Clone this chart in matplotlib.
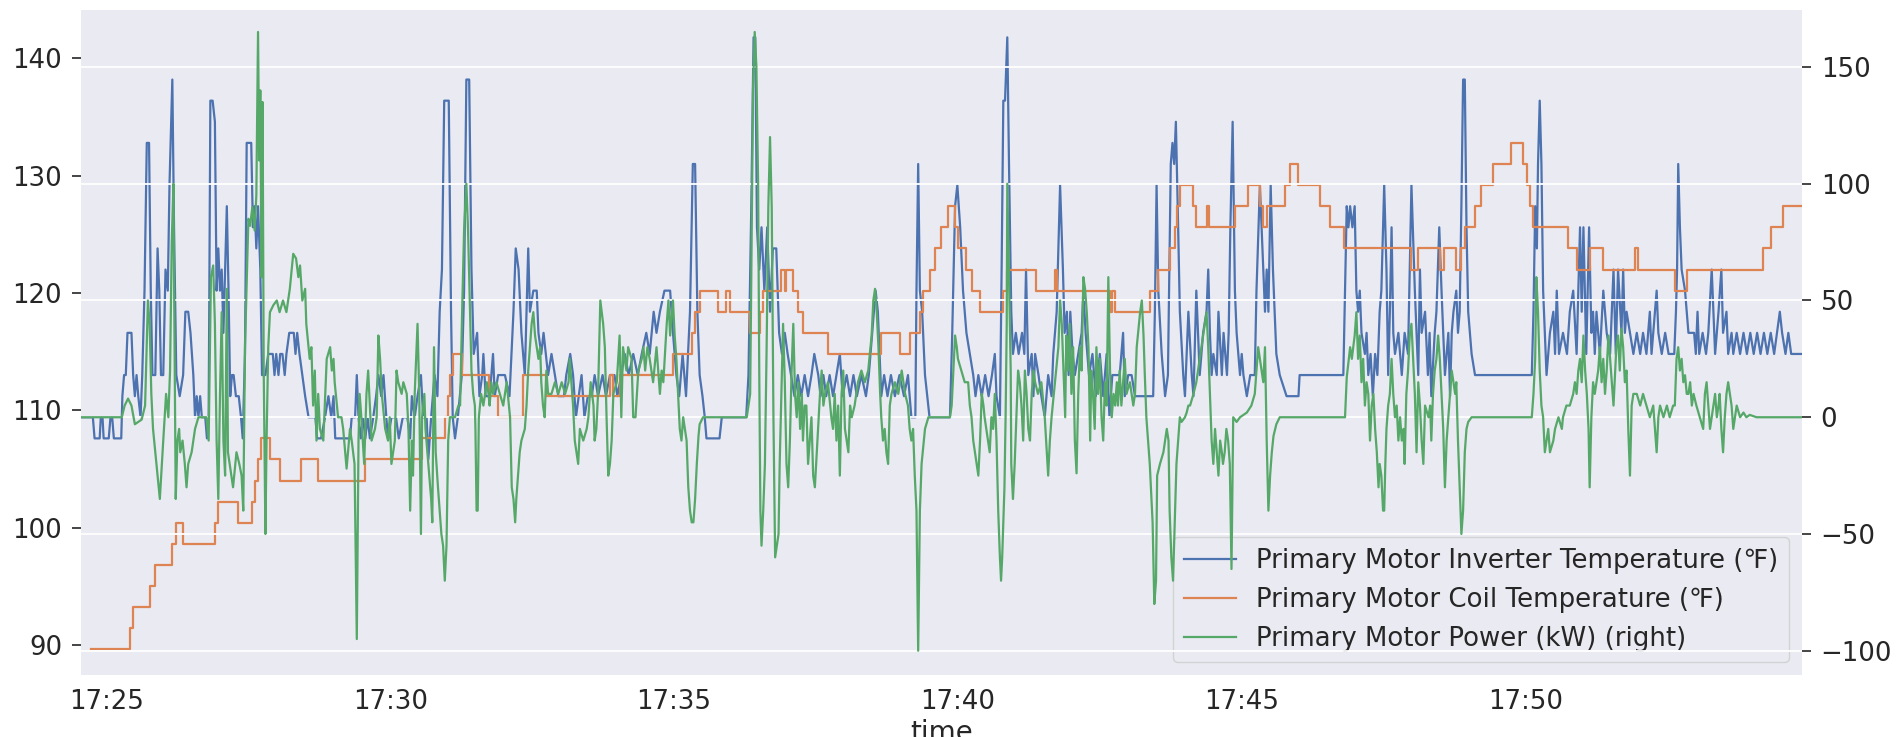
import pandas as pd
import matplotlib.pyplot as plt
import matplotlib.dates as mdates

# readings as (minutes after 17:00, value)
inverter_temp = [
    (24.55, 109.4), (24.76, 109.4), (24.79, 107.6), (24.88, 107.6), (24.90, 109.4), (24.93, 109.4),
    (24.95, 107.6), (25.04, 107.6), (25.07, 109.4), (25.10, 109.4), (25.13, 107.6), (25.26, 107.6),
    (25.28, 111.2), (25.31, 113.0), (25.34, 113.0), (25.37, 116.6), (25.44, 116.6), (25.47, 113.0),
    (25.50, 111.2), (25.53, 113.0), (25.56, 111.2), (25.60, 109.4), (25.63, 113.0), (25.67, 120.2),
    (25.71, 132.8), (25.75, 132.8), (25.78, 120.2), (25.81, 113.0), (25.86, 113.0), (25.90, 123.8),
    (25.93, 120.2), (25.96, 113.0), (26.00, 113.0), (26.04, 122.0), (26.08, 120.2), (26.11, 129.2),
    (26.16, 138.2), (26.19, 125.6), (26.23, 113.0), (26.29, 111.2), (26.35, 113.0), (26.39, 118.4),
    (26.44, 118.4), (26.48, 116.6), (26.53, 113.0), (26.56, 109.4), (26.59, 111.2), (26.62, 109.4),
    (26.65, 111.2), (26.68, 109.4), (26.74, 109.4), (26.77, 107.6), (26.80, 109.4), (26.83, 136.4),
    (26.87, 136.4), (26.91, 134.6), (26.94, 120.2), (26.97, 123.8), (27.00, 120.2), (27.03, 122.0),
    (27.06, 116.6), (27.09, 122.0), (27.12, 127.4), (27.15, 120.2), (27.18, 111.2), (27.21, 113.0),
    (27.24, 113.0), (27.28, 111.2), (27.33, 111.2), (27.37, 109.4), (27.40, 107.6), (27.44, 114.8),
    (27.47, 132.8), (27.55, 132.8), (27.58, 125.6), (27.61, 127.4), (27.64, 123.8), (27.67, 127.4),
    (27.71, 122.0), (27.74, 113.0), (27.80, 113.0), (27.85, 114.8), (27.93, 114.8), (27.96, 113.0),
    (27.99, 114.8), (28.03, 113.0), (28.06, 114.8), (28.10, 114.8), (28.14, 113.0), (28.17, 114.8),
    (28.22, 116.6), (28.30, 116.6), (28.33, 114.8), (28.36, 116.6), (28.40, 114.8), (28.45, 113.0),
    (28.50, 111.2), (28.56, 109.4), (28.68, 109.4), (28.71, 107.6), (28.78, 107.6),
    (28.85, 109.4), (28.91, 111.2), (28.96, 109.4), (29.00, 111.2), (29.03, 107.6), (29.29, 107.6),
    (29.32, 109.4), (29.38, 109.4), (29.41, 113.0), (29.44, 109.4), (29.48, 107.6), (29.52, 109.4),
    (29.56, 107.6), (29.60, 109.4), (29.64, 107.6), (29.70, 109.4), (29.75, 111.2), (29.79, 113.0),
    (29.84, 111.2), (29.88, 113.0), (29.93, 109.4), (29.96, 107.6), (30.02, 109.4), (30.10, 109.4),
    (30.15, 107.6), (30.22, 109.4), (30.30, 109.4), (30.35, 107.6), (30.38, 111.2), (30.43, 109.4),
    (30.48, 111.2), (30.54, 113.0), (30.58, 109.4), (30.64, 109.4), (30.67, 105.8), (30.72, 109.4),
    (30.78, 113.0), (30.83, 111.2), (30.87, 118.4), (30.91, 122.0), (30.95, 136.4), (31.03, 136.4),
    (31.07, 118.4), (31.10, 109.4), (31.14, 107.6), (31.19, 109.4), (31.26, 113.0), (31.30, 120.2),
    (31.34, 138.2), (31.39, 138.2), (31.43, 122.0), (31.47, 114.8), (31.53, 116.6), (31.57, 111.2),
    (31.62, 113.0), (31.64, 114.8), (31.68, 111.2), (31.75, 111.2), (31.81, 114.8), (31.84, 111.2),
    (31.90, 113.0), (32.02, 113.0), (32.10, 111.2), (32.17, 118.4), (32.21, 123.8), (32.26, 122.0),
    (32.31, 116.6), (32.37, 113.0), (32.43, 123.8), (32.46, 118.4), (32.52, 120.2), (32.58, 120.2),
    (32.61, 116.6), (32.66, 114.8), (32.70, 116.6), (32.78, 113.0), (32.84, 114.8), (32.90, 113.0),
    (32.96, 111.2), (33.06, 111.2), (33.10, 113.0), (33.17, 114.8),
    (33.22, 113.0), (33.27, 109.4), (33.32, 111.2), (33.37, 113.0), (33.42, 109.4), (33.48, 111.2),
    (33.55, 111.2), (33.60, 113.0), (33.66, 111.2), (33.74, 113.0), (33.80, 111.2), (33.87, 113.0),
    (33.95, 113.0), (34.00, 111.2), (34.07, 113.0), (34.13, 114.8), (34.20, 113.0), (34.28, 114.8),
    (34.36, 113.0), (34.43, 114.8), (34.51, 116.6), (34.57, 114.8), (34.64, 118.4), (34.69, 116.6),
    (34.75, 118.4), (34.83, 120.2), (34.93, 120.2), (34.98, 116.6), (35.04, 113.0), (35.09, 111.2),
    (35.15, 114.8), (35.21, 111.2), (35.28, 118.4), (35.33, 131.0), (35.37, 131.0), (35.41, 118.4),
    (35.45, 113.0), (35.50, 111.2), (35.54, 109.4), (35.57, 107.6), (35.80, 107.6), (35.84, 109.4),
    (36.27, 109.4), (36.31, 113.0), (36.36, 127.4), (36.40, 141.8), (36.43, 141.8), (36.46, 125.6),
    (36.50, 122.0), (36.54, 125.6), (36.59, 120.2), (36.64, 125.6), (36.69, 118.4), (36.74, 123.8),
    (36.80, 123.8), (36.85, 116.6), (36.90, 114.8), (36.95, 116.6), (37.00, 114.8), (37.06, 113.0),
    (37.12, 111.2), (37.18, 113.0), (37.24, 111.2), (37.30, 113.0), (37.36, 111.2), (37.42, 113.0),
    (37.47, 114.8),
    (37.54, 113.0), (37.58, 111.2), (37.63, 113.0), (37.68, 111.2), (37.74, 113.0), (37.80, 111.2),
    (37.86, 113.0), (37.92, 114.8), (37.97, 111.2), (38.04, 113.0), (38.10, 111.2), (38.16, 113.0),
    (38.22, 111.2), (38.30, 113.0), (38.38, 111.2), (38.43, 113.0), (38.49, 116.6), (38.55, 120.2),
    (38.59, 118.4), (38.65, 111.2), (38.70, 113.0), (38.76, 111.2), (38.82, 113.0), (38.89, 111.2),
    (38.97, 113.0), (39.05, 111.2), (39.12, 113.0), (39.18, 109.4), (39.25, 109.4), (39.27, 120.2),
    (39.30, 131.0), (39.33, 120.2), (39.37, 118.4), (39.42, 113.0), (39.50, 109.4), (39.86, 109.4),
    (39.90, 116.6), (39.95, 127.4), (39.99, 129.2), (40.04, 125.6), (40.09, 120.2), (40.15, 116.6),
    (40.21, 114.8), (40.27, 113.0), (40.31, 111.2), (40.36, 113.0), (40.42, 111.2), (40.48, 113.0),
    (40.54, 111.2), (40.60, 113.0), (40.65, 114.8), (40.68, 111.2), (40.74, 109.4), (40.77, 122.0),
    (40.80, 136.4), (40.83, 136.4), (40.87, 141.8), (40.90, 131.0), (40.94, 118.4), (40.97, 114.8),
    (41.02, 116.6), (41.07, 114.8), (41.13, 116.6), (41.17, 114.8), (41.20, 122.0), (41.24, 113.0),
    (41.30, 114.8), (41.33, 111.2), (41.36, 114.8), (41.42, 113.0), (41.47, 111.2), (41.53, 109.4),
    (41.59, 113.0), (41.65, 111.2), (41.68, 114.8), (41.74, 118.4), (41.80, 129.2), (41.85, 122.0),
    (41.88, 116.6), (41.92, 118.4), (41.95, 113.0), (41.98, 118.4), (42.02, 114.8), (42.06, 113.0),
    (42.12, 114.8), (42.18, 116.6), (42.21, 120.2), (42.25, 116.6), (42.31, 113.0), (42.37, 114.8),
    (42.43, 111.2), (42.50, 114.8), (42.56, 111.2), (42.62, 114.8), (42.67, 109.4), (42.72, 113.0),
    (42.85, 113.0), (42.91, 116.6), (42.94, 111.2), (43.00, 113.0), (43.06, 113.0), (43.12, 111.2),
    (43.44, 111.2), (43.47, 118.4), (43.50, 129.2), (43.53, 120.2), (43.59, 114.8), (43.65, 111.2),
    (43.70, 113.0), (43.75, 131.0), (43.78, 132.8), (43.81, 131.0), (43.84, 134.6), (43.88, 125.6),
    (43.91, 118.4), (43.97, 113.0), (44.00, 111.2), (44.06, 118.4), (44.12, 113.0), (44.15, 111.2),
    (44.20, 120.2), (44.26, 113.0), (44.32, 116.6), (44.38, 118.4), (44.41, 122.0), (44.44, 116.6),
    (44.47, 113.0), (44.50, 114.8), (44.56, 113.0), (44.59, 118.4), (44.65, 113.0), (44.68, 116.6),
    (44.74, 113.0), (44.77, 116.6), (44.80, 125.6), (44.84, 134.6), (44.88, 120.2), (44.91, 116.6),
    (44.97, 113.0), (45.00, 114.8), (45.03, 113.0), (45.09, 111.2), (45.15, 113.0), (45.23, 113.0),
    (45.26, 120.2), (45.32, 129.2), (45.35, 125.6), (45.38, 122.0), (45.41, 118.4), (45.44, 122.0),
    (45.47, 118.4), (45.51, 129.2), (45.55, 122.0), (45.61, 114.8), (45.67, 113.0), (45.79, 111.2),
    (46.00, 111.2), (46.02, 113.0),
    (46.79, 113.0), (46.82, 120.2), (46.85, 127.4), (46.88, 125.6), (46.91, 127.4), (46.95, 125.6),
    (46.99, 127.4), (47.02, 120.2), (47.05, 118.4), (47.08, 120.2), (47.11, 116.6), (47.17, 114.8),
    (47.20, 116.6), (47.23, 113.0), (47.27, 114.8), (47.31, 111.2), (47.35, 114.8), (47.39, 113.0),
    (47.43, 118.4), (47.46, 120.2), (47.51, 129.2), (47.55, 122.0), (47.58, 113.0), (47.61, 118.4),
    (47.64, 125.6), (47.67, 116.6), (47.70, 114.8), (47.76, 116.6), (47.82, 113.0), (47.87, 116.6),
    (47.93, 114.8), (47.99, 129.2), (48.05, 120.2), (48.11, 113.0), (48.14, 122.0), (48.17, 116.6),
    (48.23, 118.4), (48.28, 113.0), (48.31, 116.6), (48.34, 111.2), (48.40, 116.6), (48.43, 118.4),
    (48.48, 125.6), (48.52, 120.2), (48.58, 113.0), (48.64, 116.6), (48.67, 111.2), (48.70, 116.6),
    (48.73, 118.4), (48.78, 120.2), (48.81, 116.6), (48.84, 118.4), (48.87, 127.4), (48.90, 138.2),
    (48.93, 138.2), (48.96, 125.6), (48.99, 118.4), (49.05, 114.8), (49.11, 113.0), (50.11, 113.0),
    (50.14, 118.4), (50.17, 127.4), (50.20, 123.8), (50.22, 131.0), (50.25, 136.4), (50.28, 131.0),
    (50.31, 120.2), (50.34, 116.6), (50.37, 113.0), (50.43, 116.6), (50.49, 118.4),
    (50.52, 114.8), (50.55, 120.2), (50.59, 114.8), (50.66, 116.6), (50.73, 114.8), (50.78, 118.4),
    (50.84, 120.2), (50.90, 114.8), (50.96, 125.6), (50.99, 118.4), (51.02, 125.6), (51.07, 114.8),
    (51.12, 125.6), (51.16, 116.6), (51.19, 118.4), (51.22, 114.8), (51.25, 118.4), (51.31, 114.8),
    (51.37, 120.2), (51.43, 116.6), (51.49, 114.8), (51.55, 122.0), (51.59, 114.8), (51.63, 122.0),
    (51.69, 116.6), (51.72, 122.0), (51.75, 116.6), (51.78, 118.4), (51.84, 116.6), (51.90, 114.8),
    (51.96, 116.6), (52.02, 114.8), (52.07, 116.6), (52.13, 114.8), (52.19, 118.4), (52.22, 114.8),
    (52.31, 120.2), (52.34, 116.6), (52.40, 114.8), (52.46, 116.6), (52.52, 114.8), (52.62, 114.8),
    (52.65, 118.4), (52.67, 122.0), (52.69, 131.0), (52.72, 125.6), (52.75, 122.0), (52.81, 120.2),
    (52.87, 116.6), (52.97, 116.6), (53.00, 114.8), (53.03, 118.4), (53.06, 114.8), (53.12, 116.6),
    (53.18, 114.8), (53.22, 116.6), (53.28, 122.0), (53.31, 118.4), (53.34, 114.8), (53.40, 118.4),
    (53.45, 122.0), (53.48, 116.6), (53.54, 118.4), (53.57, 114.8), (53.63, 116.6), (53.66, 114.8),
    (53.72, 116.6), (53.78, 114.8), (53.84, 116.6), (53.90, 114.8), (53.96, 116.6), (54.02, 114.8),
    (54.08, 116.6), (54.14, 114.8), (54.20, 116.6), (54.26, 114.8), (54.32, 116.6), (54.38, 114.8),
    (54.48, 118.4), (54.52, 116.6), (54.58, 114.8), (54.63, 116.6), (54.68, 114.8), (54.87, 114.8),
]

coil_temp = [
    (24.72, 89.6), (25.41, 91.4), (25.47, 93.2), (25.76, 95.0), (25.85, 96.8), (26.15, 98.6),
    (26.23, 100.4), (26.35, 98.6), (26.91, 100.4), (26.97, 102.2), (27.32, 100.4), (27.56, 102.2),
    (27.61, 104.0), (27.67, 105.8), (27.73, 107.6), (27.88, 105.8), (28.05, 104.0), (28.43, 105.8),
    (28.73, 104.0), (29.55, 105.8), (30.55, 107.6), (30.97, 109.4), (31.01, 111.2), (31.05, 113.0),
    (31.10, 114.8), (31.27, 113.0), (31.74, 111.2), (31.90, 109.4), (32.34, 113.0), (32.74, 111.2),
    (33.87, 113.0), (33.93, 111.2), (34.05, 113.0), (34.98, 114.8), (35.31, 116.6), (35.37, 118.4),
    (35.45, 120.2), (35.78, 118.4), (35.92, 120.2), (35.98, 118.4), (36.33, 116.6), (36.51, 118.4),
    (36.57, 120.2), (36.89, 122.0), (36.95, 120.2), (36.98, 122.0), (37.10, 120.2), (37.19, 118.4),
    (37.27, 116.6), (37.72, 114.8), (38.65, 116.6), (38.98, 114.8), (39.15, 116.6), (39.33, 118.4),
    (39.39, 120.2), (39.51, 122.0), (39.59, 123.8), (39.71, 125.6), (39.83, 127.4), (39.95, 125.6),
    (40.00, 123.8), (40.15, 122.0), (40.24, 120.2), (40.39, 118.4), (40.80, 120.2), (40.86, 122.0),
    (41.38, 120.2), (41.71, 122.0), (41.74, 120.2), (42.68, 118.4), (42.71, 120.2), (42.76, 118.4),
    (43.38, 120.2), (43.53, 122.0), (43.73, 123.8), (43.82, 125.6), (43.86, 127.4), (43.91, 129.2),
    (44.15, 127.4), (44.20, 125.6), (44.38, 127.4), (44.43, 125.6), (44.88, 127.4), (45.11, 129.2),
    (45.32, 127.4), (45.38, 125.6), (45.44, 127.4), (45.76, 129.2), (45.85, 131.0), (46.00, 129.2),
    (46.38, 127.4), (46.55, 125.6), (46.80, 123.8), (47.98, 122.0), (48.11, 123.8), (48.49, 122.0),
    (48.57, 123.8), (48.78, 122.0), (48.87, 123.8), (48.93, 125.6), (49.11, 127.4), (49.22, 129.2),
    (49.43, 131.0), (49.75, 132.8), (49.96, 131.0), (50.02, 129.2), (50.08, 127.4), (50.14, 125.6),
    (50.75, 123.8), (50.90, 122.0), (51.13, 123.8), (51.37, 122.0), (51.93, 123.8), (51.99, 122.0),
    (52.63, 120.2), (52.84, 122.0), (54.19, 123.8), (54.33, 125.6), (54.54, 127.4), (54.87, 127.4),
]

motor_power = [
    (24.55, 0), (25.27, 0), (25.32, 5), (25.38, 8), (25.44, 5), (25.50, -3), (25.56, -2), (25.62, -1),
    (25.68, 5), (25.73, 50), (25.76, 40), (25.79, 10), (25.82, -5), (25.88, -20), (25.94, -35),
    (26.00, -10), (26.05, 10), (26.09, 0), (26.12, 20), (26.15, 75), (26.18, 100), (26.19, 60),
    (26.22, -35), (26.25, -10), (26.28, -5), (26.30, -15), (26.34, -10), (26.38, -20), (26.41, -30),
    (26.44, -20), (26.50, -15), (26.56, -5), (26.62, 0), (26.76, 0), (26.80, -10), (26.84, 60),
    (26.88, 65), (26.91, 40), (26.94, -10), (26.97, -35), (27.00, 10), (27.03, 45), (27.06, -10),
    (27.09, -25), (27.12, 55), (27.14, -15), (27.17, -20), (27.23, -30), (27.29, -15), (27.34, -20),
    (27.38, -25), (27.41, -40), (27.44, 30), (27.50, 85), (27.53, 82), (27.57, 90), (27.61, 80),
    (27.64, 95), (27.67, 165), (27.69, 110), (27.71, 140), (27.73, 60), (27.75, 135), (27.77, 20),
    (27.80, -50), (27.82, -10), (27.85, 30), (27.88, 45), (27.94, 48), (28.00, 50), (28.05, 45),
    (28.11, 50), (28.17, 45), (28.23, 55), (28.29, 70), (28.34, 68), (28.38, 60), (28.41, 65),
    (28.45, 50), (28.50, 55), (28.52, 40), (28.58, 25), (28.61, 30), (28.64, 5), (28.67, 20),
    (28.70, -10), (28.73, 10), (28.76, -5), (28.82, -10), (28.88, 25),
    (28.94, 30), (28.97, 20), (29.00, 25), (29.02, 15), (29.08, 0), (29.14, 0), (29.17, -5),
    (29.23, -22), (29.29, -5), (29.32, -10), (29.37, -20), (29.41, -95), (29.44, -10), (29.46, 10),
    (29.49, 0), (29.54, -20), (29.58, 10), (29.61, 20), (29.67, -10), (29.73, -5), (29.76, 0),
    (29.79, 35), (29.82, 25), (29.85, 10), (29.91, -5), (29.96, -10), (29.99, 0), (30.02, -20),
    (30.08, -10), (30.11, 20), (30.14, 15), (30.20, 10), (30.23, 15), (30.29, 10), (30.32, -5),
    (30.35, -40), (30.38, -10), (30.40, -25), (30.43, 10), (30.48, 40), (30.51, 10), (30.54, -50),
    (30.56, 0), (30.60, 10), (30.62, -5), (30.67, -20), (30.72, -35), (30.74, -45), (30.77, 30),
    (30.80, -15), (30.84, -30), (30.87, -40), (30.90, -50), (30.93, -55), (30.96, -70), (30.99, -55),
    (31.02, -10), (31.05, 0), (31.14, 0), (31.20, 5), (31.23, 5), (31.27, 50), (31.30, 80),
    (31.34, 100), (31.37, 80), (31.40, 50), (31.43, 20), (31.46, 10), (31.49, 5), (31.50, -5),
    (31.52, -40), (31.54, -40), (31.56, 0), (31.60, 10), (31.64, 5), (31.67, 10), (31.70, 15),
    (31.73, 10), (31.75, 5), (31.78, 15), (31.81, 10), (31.87, 15), (31.93, 10), (31.99, 5),
    (32.05, 15), (32.11, 0), (32.14, -30), (32.17, -35), (32.20, -45), (32.22, -35), (32.25, -25),
    (32.28, -15), (32.31, -10), (32.37, -5), (32.40, 5), (32.43, 20), (32.49, 40), (32.52, 45),
    (32.55, 35), (32.61, 25), (32.64, 30), (32.66, 15), (32.69, 5), (32.72, 0), (32.75, 20),
    (32.78, 10), (32.84, 10), (32.90, 15), (32.96, 10), (33.02, 15), (33.08, 10), (33.14, 15),
    (33.16, 25),
    (33.22, 5), (33.25, -10), (33.31, -20), (33.34, -5), (33.40, -10), (33.46, -5), (33.49, 0),
    (33.53, 15), (33.58, 5), (33.60, -10), (33.63, -5), (33.66, 10), (33.70, 50), (33.75, 40),
    (33.78, 30), (33.81, 0), (33.84, -25), (33.87, -20), (33.90, -10), (33.93, 10), (33.99, 15),
    (34.04, 35), (34.07, 0), (34.10, 30), (34.16, 20), (34.19, 30), (34.25, 25), (34.28, 0),
    (34.32, 0), (34.37, 20), (34.43, 25), (34.46, 30), (34.49, 20), (34.53, 30), (34.57, 25),
    (34.63, 15), (34.69, 30), (34.72, 20), (34.75, 10), (34.78, 20), (34.81, 15), (34.87, 40),
    (34.90, 50), (34.93, 35), (34.96, 45), (34.98, 50), (35.01, 35), (35.04, 25), (35.07, 10),
    (35.10, -5), (35.13, -10), (35.16, 0), (35.19, -5), (35.22, -10), (35.25, -30), (35.28, -40),
    (35.31, -45), (35.34, -45), (35.37, -35), (35.40, -20), (35.43, -8), (35.45, -3), (35.51, 0),
    (36.28, 0), (36.31, 5), (36.34, 10), (36.36, 60), (36.39, 140), (36.42, 165), (36.45, 150),
    (36.48, 100), (36.50, 20), (36.52, -40), (36.54, -55), (36.57, -40), (36.60, -20), (36.63, 30),
    (36.66, 90), (36.69, 120), (36.72, 90), (36.75, 0), (36.78, -60), (36.81, -55), (36.84, -50),
    (36.86, -20), (36.89, 10), (36.92, 40), (36.95, 15), (36.98, -20), (37.01, -30), (37.04, -10),
    (37.07, 20), (37.10, 40), (37.13, 10), (37.16, 0), (37.19, 15), (37.22, -5), (37.25, 10),
    (37.27, -10), (37.30, 5), (37.33, 5), (37.36, -20), (37.39, -10), (37.42, 0), (37.45, -25),
    (37.48, -30),
    (37.57, 10), (37.60, 20), (37.63, 5), (37.66, 10), (37.71, 15), (37.77, 0), (37.80, -5),
    (37.83, 10), (37.86, -10), (37.89, 5), (37.92, -25), (37.95, 10), (37.98, 20), (38.01, -5),
    (38.07, -15), (38.10, 5), (38.13, 0), (38.18, 5), (38.24, 15), (38.30, 20), (38.36, 15),
    (38.42, 20), (38.48, 35), (38.51, 50), (38.54, 55), (38.57, 45), (38.60, 30), (38.63, 10),
    (38.65, 0), (38.68, -10), (38.71, -5), (38.74, -15), (38.77, -20), (38.80, 5), (38.83, 10),
    (38.89, 15), (38.95, 10), (39.01, 20), (39.07, 10), (39.12, 5), (39.15, -5), (39.18, -10),
    (39.21, -5), (39.24, -25), (39.27, -40), (39.30, -100), (39.33, -40), (39.36, -20), (39.42, -5),
    (39.48, 0), (39.86, 0), (39.89, 5), (39.92, 20), (39.95, 35), (39.98, 30), (40.00, 25),
    (40.06, 20), (40.12, 15), (40.18, 15), (40.21, 5), (40.24, 0), (40.27, -10), (40.30, -15),
    (40.36, -25), (40.39, -10), (40.42, 10), (40.45, 5), (40.47, 0), (40.53, -10), (40.56, -15),
    (40.59, 0), (40.62, -5), (40.65, 10), (40.68, -10), (40.71, -40), (40.74, -60), (40.76, -70),
    (40.78, -60), (40.82, -30), (40.84, 0), (40.86, 40), (40.87, 100), (40.90, 60), (40.93, 20),
    (40.94, -20), (40.97, -35), (41.00, -20), (41.03, 0), (41.06, 20), (41.09, 15), (41.12, 5),
    (41.15, -10), (41.18, 20), (41.21, 10), (41.24, -5), (41.27, -10), (41.30, 10), (41.33, 20),
    (41.36, 15), (41.41, 10), (41.47, 15), (41.53, 0), (41.59, -25), (41.62, -10), (41.65, 0),
    (41.71, 15), (41.77, 30),
    (41.80, 50), (41.83, 40), (41.86, 20), (41.89, 0), (41.91, 35), (41.94, 20), (41.97, 40),
    (42.00, 10), (42.03, 30), (42.06, -10), (42.09, -24), (42.12, 10), (42.15, 30), (42.18, 20),
    (42.21, 60), (42.24, 55), (42.27, 45), (42.30, 30), (42.33, -10), (42.35, 20), (42.38, 10),
    (42.41, -5), (42.44, 30), (42.47, 10), (42.50, 25), (42.53, 0), (42.56, -10), (42.59, 15),
    (42.62, 5), (42.65, 60), (42.68, 20), (42.71, 0), (42.74, 10), (42.77, 5), (42.80, 15),
    (42.82, 5), (42.85, 20), (42.88, 5), (42.91, 15), (42.94, 25), (42.97, 10), (43.03, 15),
    (43.09, 5), (43.12, 10), (43.15, 30), (43.21, 45), (43.24, 50), (43.27, 35), (43.29, 20),
    (43.32, 0), (43.35, -10), (43.38, -20), (43.43, -45), (43.46, -80), (43.49, -70), (43.51, -25),
    (43.56, -20), (43.62, -15), (43.68, -5), (43.71, -10), (43.73, -40), (43.76, -60), (43.79, -70),
    (43.82, -45), (43.85, -20), (43.88, -10), (43.91, 0), (43.94, -2), (44.00, 0), (44.03, 2),
    (44.06, 5), (44.09, 5), (44.15, 10), (44.20, 15), (44.26, 25), (44.32, 35), (44.38, 45),
    (44.41, 30), (44.44, 10), (44.47, -10), (44.50, -20), (44.53, -5), (44.56, -15), (44.59, -25),
    (44.62, -10), (44.65, -15), (44.67, -20), (44.70, -15), (44.73, -5), (44.76, -10), (44.79, -20),
    (44.82, -65), (44.85, 0), (44.91, -2), (44.97, 0), (45.09, 2), (45.17, 5), (45.23, 10),
    (45.29, 30), (45.32, 25), (45.35, 20), (45.38, 15), (45.41, 30), (45.44, -10), (45.47, -40),
    (45.50, -25), (45.53, -15), (45.56, -8), (45.61, -3), (45.67, 0),
    (46.82, 0), (46.85, 17), (46.91, 30), (46.94, 25), (46.99, 35), (47.02, 45), (47.05, 25),
    (47.08, 35), (47.11, 15), (47.14, 25), (47.17, 5), (47.20, 15), (47.23, 10), (47.26, -10),
    (47.29, 5), (47.32, 10), (47.35, -5), (47.38, -15), (47.41, -30), (47.43, -20), (47.46, -25),
    (47.49, -40), (47.51, -40), (47.53, -20), (47.55, -5), (47.58, 5), (47.61, 10), (47.64, 25),
    (47.67, 10), (47.70, 0), (47.73, 5), (47.76, -10), (47.79, 0), (47.82, -10), (47.85, -5),
    (47.87, -20), (47.90, 10), (47.93, 20), (47.96, 35), (47.99, 40), (48.02, 25), (48.05, 10),
    (48.08, -15), (48.11, 15), (48.14, 5), (48.17, -10), (48.20, -20), (48.23, 5), (48.29, 0),
    (48.32, 5), (48.34, -10), (48.37, 10), (48.40, 20), (48.43, 25), (48.46, 35), (48.49, 25),
    (48.52, 10), (48.55, -5), (48.58, -30), (48.61, -10), (48.64, 0), (48.67, 10), (48.70, 20),
    (48.73, 15), (48.76, 10), (48.78, 15), (48.81, -10), (48.84, -30), (48.87, -50), (48.90, -40),
    (48.93, -15), (48.96, -5), (48.99, -2), (49.05, 0), (50.11, 0), (50.14, 10), (50.17, 25),
    (50.19, 60), (50.22, 45), (50.25, 20), (50.28, 5), (50.31, 0), (50.34, -15), (50.37, -10),
    (50.40, -5), (50.43, -15),
    (50.49, -10), (50.52, -5), (50.58, 0), (50.64, -5), (50.66, 0), (50.72, 5), (50.78, 5),
    (50.84, 10), (50.87, 15), (50.90, 10), (50.93, 20), (50.96, 25), (50.99, 15), (51.02, 35),
    (51.05, 20), (51.08, 10), (51.11, -5), (51.13, -30), (51.16, 0), (51.19, 15), (51.22, 10),
    (51.28, 20), (51.31, 30), (51.34, 15), (51.37, 25), (51.40, 10), (51.43, 20), (51.46, 35),
    (51.49, 25), (51.52, 15), (51.55, 5), (51.58, 20), (51.60, 30), (51.63, 35), (51.66, 20),
    (51.69, 38), (51.72, 30), (51.75, 15), (51.78, 20), (51.81, -5), (51.84, -25), (51.87, 5),
    (51.90, 10), (51.96, 10), (52.02, 5), (52.07, 10), (52.13, 5), (52.19, 0), (52.25, 5),
    (52.31, -15), (52.34, 0), (52.37, 5), (52.43, 0), (52.49, 5), (52.54, 0), (52.60, 5),
    (52.63, 5), (52.66, 25), (52.69, 30), (52.72, 20), (52.75, 25), (52.78, 15), (52.81, 18),
    (52.84, 10), (52.87, 10), (52.90, 15), (52.93, 5), (52.96, 10), (53.01, 5), (53.07, 0),
    (53.13, -5), (53.16, 10), (53.19, 15), (53.22, 5), (53.25, -5), (53.28, 0), (53.31, 5),
    (53.34, 10), (53.37, 0), (53.40, 5), (53.42, 10), (53.45, -5), (53.48, -15), (53.51, 0),
    (53.54, 10), (53.57, 15), (53.60, 10), (53.63, 5), (53.66, -5), (53.69, 0), (53.72, 5),
    (53.78, 0), (53.84, 2), (53.89, 0), (53.95, 1), (54.07, 0), (54.87, 0),
]

labels = ['Primary Motor Inverter Temperature (℉)',
          'Primary Motor Coil Temperature (℉)',
          'Primary Motor Power (kW) (right)']
left_ticks = [90, 100, 110, 120, 130, 140]
right_ticks = [-100, -50, 0, 50, 100, 150]

base = pd.Timestamp('2021-01-01 17:00')


def to_series(pairs):
    mins, vals = zip(*pairs)
    idx = base + pd.to_timedelta(list(mins), unit='m')
    return pd.Series(vals, index=idx)


inv = to_series(inverter_temp)
coil = to_series(coil_temp)
pwr = to_series(motor_power)

txt = '#262626'
fs = 18.7
fig = plt.figure(figsize=(19, 7.37), dpi=100)
ax = fig.add_axes([0.0426, 0.0841, 0.9058, 0.9023])
ax.set_facecolor('#EAEAF2')
for s in ax.spines.values():
    s.set_visible(False)

l1, = ax.plot(inv.index, inv.values, color='#4C72B0', lw=1.6)
l2, = ax.plot(coil.index, coil.values, color='#DD8452', lw=1.6, drawstyle='steps-post')

ax2 = ax.twinx()
for s in ax2.spines.values():
    s.set_visible(False)
ax2.set_axisbelow(True)
ax2.grid(axis='y', color='white', lw=1.3)
ax.grid(False)
l3, = ax2.plot(pwr.index, pwr.values, color='#55A868', lw=1.6)

ax.set_xlim(base + pd.to_timedelta(24.55, unit='m'), base + pd.to_timedelta(54.87, unit='m'))
ax.set_ylim(87.42, 144.13)
ax2.set_ylim(-110.4, 174.4)
ax.set_yticks(left_ticks)
ax2.set_yticks(right_ticks)

ax.xaxis.set_major_locator(mdates.MinuteLocator(byminute=range(0, 60, 5)))
ax.xaxis.set_major_formatter(mdates.DateFormatter('%H:%M'))
ax.xaxis.set_minor_locator(plt.NullLocator())

ax.tick_params(axis='x', length=0, pad=10, labelsize=fs, labelcolor=txt)
ax.tick_params(axis='y', length=6.5, width=1.2, color=txt, pad=7, labelsize=fs, labelcolor=txt)
ax2.tick_params(axis='y', length=6.5, width=1.2, color=txt, pad=7, labelsize=fs, labelcolor=txt)
ax.set_xlabel('time', fontsize=20, color=txt, labelpad=3)

leg = ax.legend([l1, l2, l3], labels, loc='lower right', fontsize=fs,
                facecolor='#EAEAF2', edgecolor='0.8', framealpha=0.8)
for t in leg.get_texts():
    t.set_color(txt)

fig.savefig('out.png')
